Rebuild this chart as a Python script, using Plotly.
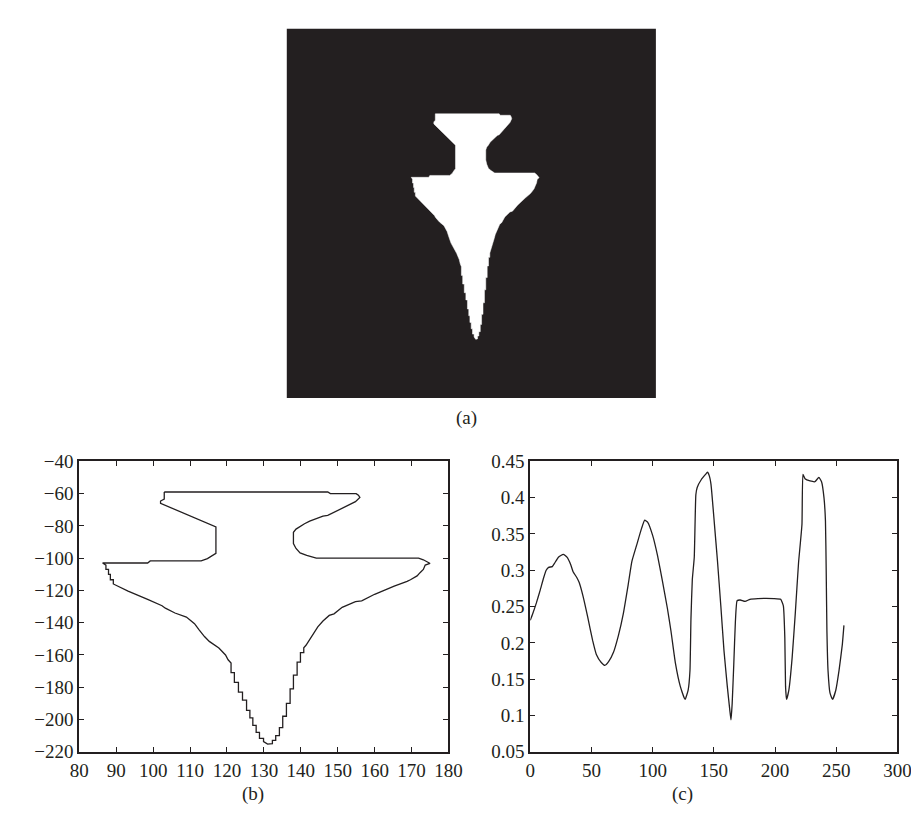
import plotly.graph_objects as go

# ---- data ----
# contour (b): boundary coordinates of the silhouette (clockwise from top-left)
contour_x = [103, 147.3, 148, 155, 155.6, 156, 154.8, 151.2, 147.3, 146, 142.4, 141, 139.8, 138.7, 138,
             138, 138.7, 139.8, 141.6, 143.8, 144.2, 171.9, 173.2, 174.8, 175, 173.7, 173.2, 172.3,
             171.5, 169.7, 168.8, 165.3, 160, 156.5, 154.8, 151.2, 149, 147.7, 146, 144.6, 143.8,
             142.9, 142, 141.4,
             140.8, 140.8, 139.9, 139.9, 139, 139, 138, 138, 137.1, 137.1, 136.1, 136.1, 135.1, 135.1,
             134.2, 134.2, 133.2, 133.2, 132.3, 132.3, 131,
             129.9, 129.9, 128.8, 128.8, 127.9, 127.9, 127, 127, 126.2, 126.2, 125.3, 125.3, 124.2,
             124.2, 123.1, 123.1, 122, 122, 121.1, 121.1,
             120.3, 119.6, 117.8, 115.2, 113.9, 112.5, 111.2, 109, 105.9, 103.3, 102.4, 98.5, 93.2, 89.2,
             89.2, 88.4, 88.4, 87.9, 87.9, 87.2, 87.2, 86.3, 98.5, 99.2, 113, 114.7, 116, 117, 117, 102,
             102, 103, 103]
contour_y = [-59, -59, -60, -60, -61, -62.4, -65, -69, -73.5, -74, -77, -78.7, -80.7, -82, -84,
             -91, -94, -96.7, -98.3, -99.7, -100, -100, -101, -103, -103.3, -104.3, -107, -109,
             -111, -113.4, -114.4, -117.4, -122.4, -126.5, -127, -130.5, -134.5, -135.5, -139, -142.6,
             -145.6, -148.6, -152, -154,
             -155.5, -158.5, -158.5, -164.5, -164.5, -172.5, -172.5, -181, -181, -190, -190, -198,
             -198, -205, -205, -210, -210, -213, -213, -215, -215.3,
             -213.7, -211.7, -211.7, -208, -208, -203.6, -203.6, -199, -199, -194.3, -194.3, -188,
             -188, -183, -183, -177, -177, -171, -171, -165,
             -163, -160, -155.7, -151.6, -148.6, -144.6, -140.6, -136.5, -134, -131, -129.5, -125.5,
             -120.4, -116,
             -113.4, -113.4, -110, -110, -107, -107, -104.3, -103, -103, -101.7, -101.7, -100.3, -98.3,
             -97, -80.7, -66, -64.6, -63.4, -59]

# signature (c)
sig_x = [0, 2, 5, 8, 11, 13, 15, 18, 20, 23, 27, 30, 33, 35, 38, 40, 43, 47, 51, 54, 58, 61, 64, 68,
         72, 76, 80, 83, 87, 91, 93.5, 96, 100, 104, 108, 112, 115, 118.6, 122.6, 126.5, 129, 130.5,
         131.3, 132.4, 134, 135.3, 136.4, 139.8, 143.2, 144.8, 146.3, 147.7, 150.4, 153, 155.7, 158.3,
         161, 163, 164, 165, 166.3, 167.6, 169, 171.6, 175.5, 179.5, 186, 199, 204.6, 206.8, 208,
         208.6, 209.4, 211.3, 214, 216.6, 219.2, 222, 222.8, 224.5, 228.6, 232.6, 235.8, 238, 240,
         241.2, 241.8, 242.4, 243.3, 244.9, 247, 249.7, 252.3, 255, 256.3]
sig_y = [0.231, 0.24, 0.255, 0.272, 0.29, 0.30, 0.304, 0.305, 0.31, 0.318, 0.322, 0.318, 0.308, 0.298,
         0.29, 0.283, 0.265, 0.235, 0.203, 0.184, 0.173, 0.169, 0.174, 0.187, 0.21, 0.24, 0.28, 0.312,
         0.335, 0.358, 0.369, 0.366, 0.348, 0.32, 0.285, 0.248, 0.216, 0.172, 0.14, 0.122, 0.135, 0.162,
         0.233, 0.287, 0.318, 0.404, 0.414, 0.425, 0.432, 0.435, 0.43, 0.418, 0.365, 0.312, 0.251, 0.189,
         0.14, 0.108, 0.094, 0.117, 0.171, 0.229, 0.258, 0.259, 0.257, 0.26, 0.261, 0.261, 0.26, 0.251,
         0.207, 0.14, 0.122, 0.135, 0.18, 0.242, 0.31, 0.363, 0.432, 0.426, 0.423, 0.422, 0.428, 0.422,
         0.40, 0.368, 0.30, 0.216, 0.162, 0.131, 0.122, 0.135, 0.162, 0.198, 0.224]

b_xticks = [80, 90, 100, 110, 120, 130, 140, 150, 160, 170, 180]
b_yticks = [-220, -200, -180, -160, -140, -120, -100, -80, -60, -40]
c_xticks = [0, 50, 100, 150, 200, 250, 300]
c_yticks = [0.05, 0.1, 0.15, 0.2, 0.25, 0.3, 0.35, 0.4, 0.45]
c_ytext = ["0.05", "0.1", "0.15", "0.2", "0.25", "0.3", "0.35", "0.4", "0.45"]
panel_labels = ["(a)", "(b)", "(c)"]

W, H = 919, 821
INK = "#231f20"
FONT = dict(family="Liberation Serif, Times New Roman, serif", size=19, color=INK)


def px(x):
    return x / W


def py(y):
    return 1 - y / H


fig = go.Figure()

# (a) binary image
fig.add_trace(go.Scatter(x=contour_x, y=contour_y, mode="lines", fill="toself",
                         fillcolor="white", line=dict(color="white", width=0.5),
                         xaxis="x3", yaxis="y3", hoverinfo="skip", showlegend=False))
# (b) contour
fig.add_trace(go.Scatter(x=contour_x, y=contour_y, mode="lines",
                         line=dict(color=INK, width=1.3),
                         xaxis="x", yaxis="y", showlegend=False))
# (c) signature
fig.add_trace(go.Scatter(x=sig_x, y=sig_y, mode="lines",
                         line=dict(color=INK, width=1.3, shape="spline", smoothing=0.4),
                         xaxis="x2", yaxis="y2", showlegend=False))

axis_common = dict(showgrid=False, zeroline=False, showline=True, linecolor=INK, linewidth=2,
                   mirror="ticks", ticks="inside", ticklen=5, tickwidth=1.3, tickcolor=INK,
                   tickfont=FONT)

fig.update_layout(
    width=W, height=H, margin=dict(l=0, r=0, t=0, b=0),
    paper_bgcolor="white", plot_bgcolor="white",
    xaxis=dict(domain=[px(63), px(442)], range=[80, 180], tickvals=b_xticks, anchor="y",
               **axis_common),
    yaxis=dict(domain=[py(753), py(455)], range=[-220, -40], tickvals=b_yticks, anchor="x",
               **axis_common),
    xaxis2=dict(domain=[px(526), px(903)], range=[0, 300], tickvals=c_xticks, anchor="y2",
                **axis_common),
    yaxis2=dict(domain=[py(753), py(455)], range=[0.05, 0.45], tickvals=c_yticks,
                ticktext=c_ytext, anchor="x2", **axis_common),
    xaxis3=dict(domain=[px(276), px(655)], range=[0, 256], visible=False, anchor="y3"),
    yaxis3=dict(domain=[py(390), py(11)], range=[-256, 0], visible=False, anchor="x3"),
    shapes=[dict(type="rect", xref="x3 domain", yref="y3 domain", x0=0, x1=1, y0=0, y1=1,
                 fillcolor=INK, line=dict(width=0), layer="below")],
    annotations=[
        dict(text=panel_labels[0], x=px(461), y=py(411), xref="paper", yref="paper",
             showarrow=False, font=FONT),
        dict(text=panel_labels[1], x=px(228), y=py(810), xref="paper", yref="paper",
             showarrow=False, font=FONT),
        dict(text=panel_labels[2], x=px(695), y=py(810), xref="paper", yref="paper",
             showarrow=False, font=FONT),
    ],
)

fig.write_html("out.html")
